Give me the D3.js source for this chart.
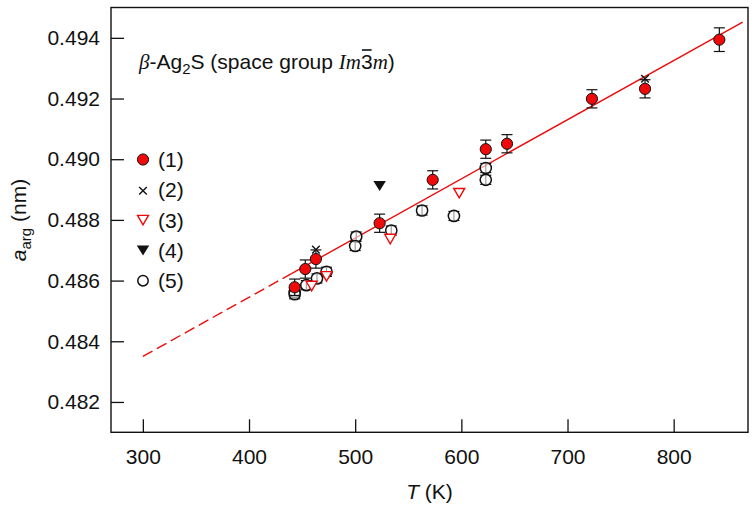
<!DOCTYPE html>
<html>
<head>
<meta charset="utf-8">
<script src="https://cdn.jsdelivr.net/npm/d3@7"></script>
<style>
  html, body { margin: 0; padding: 0; background: #fff; }
  svg { display: block; font-family: "Liberation Sans", Arial, sans-serif; }
  .tick text { font-size: 21px; fill: #111; }
</style>
</head>
<body>
<div id="chart"></div>
<script>
// Lattice constant of beta-Ag2S vs temperature, five data sets + linear fit

// (1) red filled circles with error bars
const s1T   = [443, 453, 463, 523, 573, 623, 643, 723, 773, 843];
const s1A   = [0.48578, 0.48638, 0.48671, 0.48789, 0.48932, 0.49033, 0.49051, 0.49199, 0.49232, 0.49394];
const s1Err = [0.00027, 0.0003, 0.0003, 0.0003, 0.0003, 0.0003, 0.0003, 0.0003, 0.0003, 0.00039];

// (2) crosses
const s2T = [463, 773];
const s2A = [0.48702, 0.49265];

// (3) red open down-triangles
const s3T = [459, 473, 533, 598];
const s3A = [0.48582, 0.48614, 0.48737, 0.48888];

// (4) black filled down-triangle
const s4T = [523];
const s4A = [0.48912];

// (5) open circles with small error bars
const s5T   = [443, 443, 454, 464, 473, 501, 500, 534, 563, 593, 623, 623];
const s5A   = [0.48562, 0.48555, 0.48585, 0.48607, 0.48629, 0.48745, 0.48714, 0.48765, 0.48831, 0.48813, 0.48971, 0.48932];
const s5Err = [0.00015, 0.00015, 0.00015, 0.00015, 0.00015, 0.00015, 0.00015, 0.00015, 0.00015, 0.00015, 0.00015, 0.00015];

// linear fit: dashed extrapolation, then solid
const fitDashT = [300, 440];
const fitDashA = [0.48350, 0.48623];
const fitSolidT = [440, 865];
const fitSolidA = [0.48623, 0.49452];

const xMajor = [300, 400, 500, 600, 700, 800];
const xMinor = d3.range(280, 870, 20);
const yMajor = [0.482, 0.484, 0.486, 0.488, 0.490, 0.492, 0.494];
const yMinor = [0.481, 0.483, 0.485, 0.487, 0.489, 0.491, 0.493];

const legendItems = ['(1)', '(2)', '(3)', '(4)', '(5)'];

const RED = '#ee0a0a';
const width = 756, height = 509;
const plot = { left: 111, right: 748, top: 7.5, bottom: 432.3 };

const svg = d3.select('#chart').append('svg')
  .attr('width', width)
  .attr('height', height);

const x = d3.scaleLinear().domain([270, 870]).range([plot.left, plot.right]);
const y = d3.scaleLinear().domain([0.481, 0.495]).range([plot.bottom, plot.top]);

// ─── Axes (ticks point inward) ───
const gx = svg.append('g').attr('transform', `translate(0,${plot.bottom})`);
gx.call(d3.axisBottom(x).tickValues(xMinor).tickSize(-8).tickFormat(''));
gx.call(d3.axisBottom(x).tickValues(xMajor).tickSize(-13).tickPadding(17).tickFormat(d3.format('d')));

const gy = svg.append('g').attr('transform', `translate(${plot.left},0)`);
gy.call(d3.axisLeft(y).tickValues(yMinor).tickSize(-8).tickFormat(''));
gy.call(d3.axisLeft(y).tickValues(yMajor).tickSize(-13).tickPadding(11).tickFormat(d3.format('.3f')));

svg.selectAll('.domain').remove();
svg.selectAll('.tick line').attr('stroke', '#111').attr('stroke-width', 1.3);

// frame
svg.append('rect')
  .attr('x', plot.left).attr('y', plot.top)
  .attr('width', plot.right - plot.left)
  .attr('height', plot.bottom - plot.top)
  .attr('fill', 'none')
  .attr('stroke', '#111')
  .attr('stroke-width', 1.4);

// ─── Axis titles ───
const xt = svg.append('text')
  .attr('x', (plot.left + plot.right) / 2)
  .attr('y', 499)
  .attr('text-anchor', 'middle')
  .style('font-size', '21px')
  .attr('fill', '#111');
xt.append('tspan').style('font-style', 'italic').text('T');
xt.append('tspan').text(' (K)');

const yt = svg.append('text')
  .attr('transform', 'translate(26,220) rotate(-90)')
  .attr('text-anchor', 'middle')
  .style('font-size', '21px')
  .attr('fill', '#111');
yt.append('tspan').style('font-style', 'italic').text('a');
yt.append('tspan').attr('dy', 5).style('font-size', '15px').text('arg');
yt.append('tspan').attr('dy', -5).text(' (nm)');

// ─── Title ───
const title = svg.append('text')
  .attr('x', 139)
  .attr('y', 69)
  .style('font-size', '21px')
  .attr('fill', '#111');
title.append('tspan').style('font-family', '"Liberation Serif", serif').style('font-style', 'italic').text('β');
title.append('tspan').text('-Ag');
title.append('tspan').attr('dy', 5).style('font-size', '15px').text('2');
title.append('tspan').attr('dy', -5).text('S (space group ');
title.append('tspan').style('font-family', '"Liberation Serif", serif').style('font-style', 'italic').text('Im');
title.append('tspan').text('3');
title.append('tspan').style('font-family', '"Liberation Serif", serif').style('font-style', 'italic').text('m');
title.append('tspan').text(')');

// bar over the "3"
const titleStr = title.text();
const idx3 = titleStr.indexOf('3');
const ext = title.node().getExtentOfChar(idx3);
svg.append('line')
  .attr('x1', ext.x + 1).attr('x2', ext.x + ext.width - 1)
  .attr('y1', 50).attr('y2', 50)
  .attr('stroke', '#111')
  .attr('stroke-width', 1.6);

// ─── Fit line ───
const line = d3.line().x(d => x(d[0])).y(d => y(d[1]));

svg.append('path')
  .datum(d3.zip(fitDashT, fitDashA))
  .attr('d', line)
  .attr('fill', 'none')
  .attr('stroke', RED)
  .attr('stroke-width', 1.4)
  .attr('stroke-dasharray', '11,5');

svg.append('path')
  .datum(d3.zip(fitSolidT, fitSolidA))
  .attr('d', line)
  .attr('fill', 'none')
  .attr('stroke', RED)
  .attr('stroke-width', 1.4);

// ─── Markers ───
const circleR = 5.6;
const triDown = (cx, cy, w, h) =>
  `M${cx - w / 2},${cy - h / 2}L${cx + w / 2},${cy - h / 2}L${cx},${cy + h / 2}Z`;

function errorBars(g, T, A, E) {
  const cap = 5.5;
  T.forEach((t, i) => {
    const cx = x(t), lo = y(A[i] - E[i]), hi = y(A[i] + E[i]);
    g.append('line').attr('x1', cx).attr('x2', cx).attr('y1', lo).attr('y2', hi);
    g.append('line').attr('x1', cx - cap).attr('x2', cx + cap).attr('y1', lo).attr('y2', lo);
    g.append('line').attr('x1', cx - cap).attr('x2', cx + cap).attr('y1', hi).attr('y2', hi);
  });
  g.attr('stroke', '#111').attr('stroke-width', 1.2);
}

function drawCross(g, cx, cy) {
  const s = 3.8;
  g.append('path')
    .attr('d', `M${cx - s},${cy - s}L${cx + s},${cy + s}M${cx - s},${cy + s}L${cx + s},${cy - s}`)
    .attr('stroke', '#111')
    .attr('stroke-width', 1.4)
    .attr('fill', 'none');
}

// (5) open circles
const g5 = svg.append('g');
errorBars(g5.append('g'), s5T, s5A, s5Err);
g5.selectAll('circle')
  .data(d3.zip(s5T, s5A))
  .join('circle')
  .attr('cx', d => x(d[0]))
  .attr('cy', d => y(d[1]))
  .attr('r', circleR)
  .attr('fill', '#fff')
  .attr('fill-opacity', 0.6)
  .attr('stroke', '#111')
  .attr('stroke-width', 1.5);

// (3) open red triangles
svg.append('g').selectAll('path')
  .data(d3.zip(s3T, s3A))
  .join('path')
  .attr('d', d => triDown(x(d[0]), y(d[1]), 11, 9.5))
  .attr('fill', '#fff')
  .attr('stroke', RED)
  .attr('stroke-width', 1.4);

// (4) filled black triangle
svg.append('g').selectAll('path')
  .data(d3.zip(s4T, s4A))
  .join('path')
  .attr('d', d => triDown(x(d[0]), y(d[1]), 12.5, 10))
  .attr('fill', '#111');

// (1) red circles with error bars
const g1 = svg.append('g');
errorBars(g1.append('g'), s1T, s1A, s1Err);
g1.selectAll('circle')
  .data(d3.zip(s1T, s1A))
  .join('circle')
  .attr('cx', d => x(d[0]))
  .attr('cy', d => y(d[1]))
  .attr('r', circleR)
  .attr('fill', RED)
  .attr('stroke', '#111')
  .attr('stroke-width', 1);

// (2) crosses
const g2 = svg.append('g');
s2T.forEach((t, i) => drawCross(g2, x(t), y(s2A[i])));

// ─── Legend ───
const legend = svg.append('g');
const lx = 143, ly0 = 159.5, lstep = 30.3;
legendItems.forEach((label, i) => {
  const cy = ly0 + i * lstep;
  if (i === 0) {
    legend.append('circle').attr('cx', lx).attr('cy', cy).attr('r', circleR)
      .attr('fill', RED).attr('stroke', '#111').attr('stroke-width', 1);
  } else if (i === 1) {
    drawCross(legend, lx, cy + 1);
  } else if (i === 2) {
    legend.append('path').attr('d', triDown(lx, cy, 11, 9.5))
      .attr('fill', '#fff').attr('stroke', RED).attr('stroke-width', 1.4);
  } else if (i === 3) {
    legend.append('path').attr('d', triDown(lx, cy, 12.5, 10)).attr('fill', '#111');
  } else {
    legend.append('circle').attr('cx', lx).attr('cy', cy).attr('r', circleR - 0.4)
      .attr('fill', '#fff').attr('stroke', '#111').attr('stroke-width', 1.5);
  }
  legend.append('text')
    .attr('x', lx + 15)
    .attr('y', cy + 7.5)
    .style('font-size', '21px')
    .attr('fill', '#111')
    .text(label);
});
</script>
</body>
</html>
